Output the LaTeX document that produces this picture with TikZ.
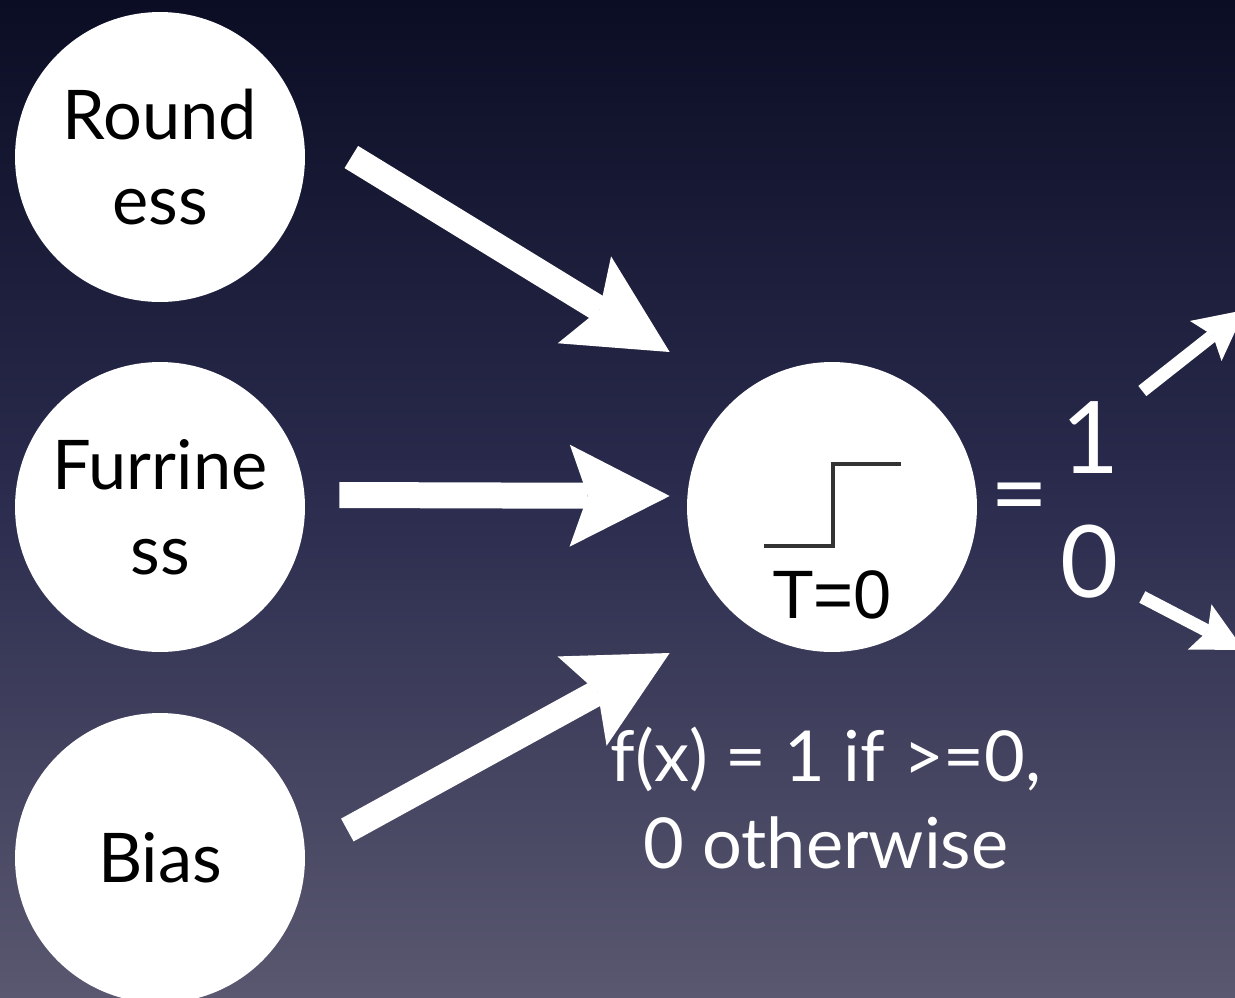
\documentclass[tikz,border=0pt]{standalone}
\usepackage{fontspec}
\setmainfont{Lato}
\newfontfamily\helvfont{Liberation Sans}
\usetikzlibrary{arrows.meta}
\definecolor{bgTop}{HTML}{0B0D24}
\definecolor{bgMid}{HTML}{2B2C4E}
\definecolor{bgBot}{HTML}{5A5870}
\definecolor{stepGray}{HTML}{333333}

\begin{document}
\begin{tikzpicture}[
    x=0.02cm, y=-0.02cm,
    unit/.style={circle, fill=white, minimum size=5.8cm, inner sep=0pt, align=center,
        font=\fontsize{39}{48.4}\selectfont},
    bigarr/.style={-{Stealth[length=2cm, width=2.04cm, inset=0.36cm, line width=0pt]},
        line width=0.52cm, white},
    smallarr/.style={-{Stealth[length=1cm, width=1.02cm, inset=0.18cm, line width=0pt]},
        line width=0.26cm, white},
    outtxt/.style={white, inner sep=0pt, font=\fontsize{57}{60}\selectfont},
    formula/.style={white, align=center, inner sep=0pt, font=\fontsize{40}{50}\selectfont},
    stepline/.style={stepGray, line width=0.07cm},
]
\useasboundingbox (0,0) rectangle (1235,998);
\clip (0,0) rectangle (1235,998);
\shade[top color=bgTop, bottom color=bgBot, middle color=bgMid] (0,0) rectangle (1235,998);

% Inputs
\node[unit] (round) at (160,157) {Round\\ess};
\node[unit] (furr) at (160,507) {Furrine\\ss};
\node[unit] (bias) at (160,858) {Bias};

% Threshold unit
\node[unit] (step) at (832,507) {};
\draw[stepline] (step.center) ++(-68,39) -- ++(69,0) -- ++(0,-82) -- ++(68,0);
\node[inner sep=0pt, anchor=base, font=\helvfont\fontsize{39}{40}\selectfont] (thr) at (832,618) {T=0};

% Weighted inputs
\draw[bigarr] ([shift={(46,0)}]round.east) -- ([shift={(-17,-155)}]step.west);
\draw[bigarr] ([shift={(34,-12)}]furr.east) -- ([shift={(-17,-11)}]step.west);
\draw[bigarr] ([shift={(42,-28)}]bias.east) -- ([shift={(-17,146)}]step.west);

% Output
\node[outtxt, anchor=base] (eq) at (1020,528) {=};
\node[outtxt, anchor=base] (one) at (1091,473) {1};
\node[outtxt, anchor=base] (zero) at (1090,597) {0};
\coordinate (yes) at (1245,310);
\coordinate (no) at (1244,650);
\draw[smallarr] ([shift={(165,-116)}]step.east) -- (yes);
\draw[smallarr] ([shift={(165,90)}]step.east) -- (no);

\node[formula] (fx) at (826,798) {f(x) = 1 if >=0,\\ 0 otherwise};

\end{tikzpicture}
\end{document}
